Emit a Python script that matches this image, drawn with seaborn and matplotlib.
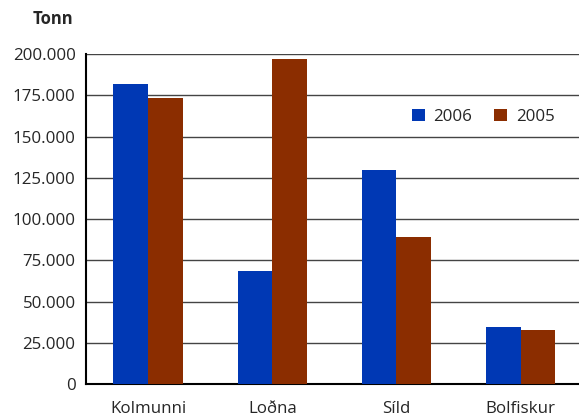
import numpy as np
import pandas as pd
import matplotlib
matplotlib.use('Agg')
import matplotlib.pyplot as plt
from matplotlib.ticker import FuncFormatter, FixedLocator
import seaborn as sns

categories = ['Kolmunni', 'Loðna', 'Síld', 'Bolfiskur']
years = ['2006', '2005']
values_2006 = [181800, 68500, 129700, 34500]
values_2005 = [173300, 197000, 89000, 32700]
y_ticks = [0, 25000, 50000, 75000, 100000, 125000, 150000, 175000, 200000]

COLORS = {'2006': '#0038b4', '2005': '#8b2d00'}

df = pd.DataFrame({
    'Tegund': categories * 2,
    'Ár':     ['2006'] * len(categories) + ['2005'] * len(categories),
    'Tonn':   values_2006 + values_2005,
})

sns.set_style('white')
plt.rcParams['font.family'] = ['Open Sans', 'DejaVu Sans']

fig = plt.figure(figsize=(5.79, 4.18), dpi=100)
ax = fig.add_axes([0.1485, 0.0813, 0.858, 0.7895])

sns.barplot(data=df, x='Tegund', y='Tonn', hue='Ár', hue_order=years,
            palette=COLORS, width=0.56, gap=0, saturation=1, linewidth=0,
            order=categories, ax=ax, zorder=3)

ax.set_xlim(-0.5, len(categories) - 0.5)
ax.set_ylim(0, 200000)
ax.yaxis.set_major_locator(FixedLocator(y_ticks))
ax.yaxis.set_major_formatter(FuncFormatter(lambda v, p: f'{int(v):,}'.replace(',', '.')))
ax.grid(axis='y', color='#444444', linewidth=1, zorder=0)
ax.set_axisbelow(True)

for side in ['top', 'right']:
    ax.spines[side].set_visible(False)
for side in ['left', 'bottom']:
    ax.spines[side].set_color('black')
    ax.spines[side].set_linewidth(1.5)

ax.tick_params(axis='y', direction='inout', length=7, width=1.5, labelsize=12.2, pad=4)
ax.tick_params(axis='x', which='major', length=0, labelsize=12.2, pad=12)
ax.set_xticks(np.arange(0.5, len(categories) - 0.5), minor=True)
ax.tick_params(axis='x', which='minor', direction='inout', length=7, width=1.5)

ax.set_xlabel('')
ax.set_ylabel('')
fig.text(0.092, 0.955, 'Tonn', fontsize=12, fontweight='bold', ha='center', va='center')

ax.legend(loc='center', bbox_to_anchor=(0.80, 0.809), ncol=2, frameon=False,
          fontsize=12.2, handlelength=0.75, handleheight=0.75, columnspacing=1.3,
          handletextpad=0.5, title=None)

fig.savefig('out.png', dpi=100)
